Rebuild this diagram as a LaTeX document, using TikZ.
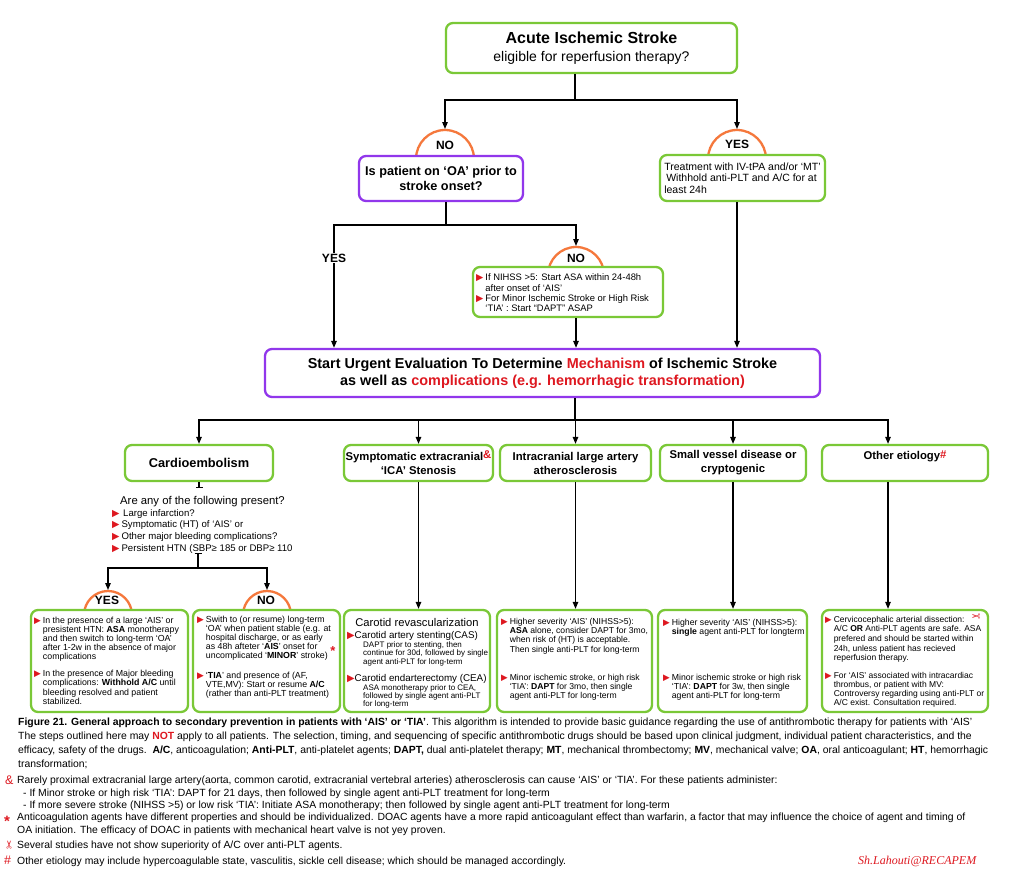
\documentclass[tikz,border=0pt]{standalone}
\usepackage{fontspec}
\usepackage{graphicx}
\setmainfont{Liberation Sans}
\newfontfamily\dejavu{DejaVu Sans}
\newfontfamily\sigfont{Liberation Serif}
\usetikzlibrary{arrows.meta}
\definecolor{gbord}{RGB}{122,200,55}
\definecolor{pbord}{RGB}{145,55,235}
\definecolor{oarc}{RGB}{245,120,60}
\definecolor{tred}{RGB}{222,24,32}
\newcommand\tri{\textcolor{tred}{\dejavu ▶}}
\newcommand\fs[2]{\fontsize{#1}{#2}\selectfont}
\newcommand\bl[1]{\begin{tabular}{@{}l@{\hspace{2pt}}l@{}}#1\end{tabular}}
\begin{document}
\begin{tikzpicture}[x=1pt,y=-1pt,
  gbox/.style={draw=gbord, line width=2.3pt, rounded corners=7pt, fill=white, inner sep=0pt},
  pbox/.style={draw=pbord, line width=2.3pt, rounded corners=7pt, fill=white, inner sep=0pt},
  arcc/.style={draw=oarc, line width=2.3pt},
  conn/.style={line width=1.2pt, black},
  arr/.style={conn, -{Triangle[length=7pt,width=5.5pt]}},
  lab/.style={font=\fs{12}{14}\bfseries, inner sep=1pt},
  tx/.style={inner sep=0pt, anchor=north west, align=left},
  bw/.style={inner sep=0pt, anchor=base west},
  captxt/.style={inner sep=0pt, anchor=base west, font=\fs{10.4}{12}},
  fnmark/.style={inner sep=0pt, anchor=base west, text=tred},
]
\useasboundingbox (0,0) rectangle (1024,878);
\fill[white] (0,0) rectangle (1024,878);

% ---------- orange arcs (behind boxes)
\draw[arcc] (445,159) circle[radius=29];
\draw[arcc] (737,159) circle[radius=29];
\draw[arcc] (576,275) circle[radius=28];
\draw[arcc] (108,615) circle[radius=24];
\draw[arcc] (267,615) circle[radius=24];

% ---------- top
\node[gbox, minimum width=291pt, minimum height=50pt, align=center, font=\fs{16}{18}] (top) at (591.5,48)
  {{\bfseries Acute Ischemic Stroke}\\{\fs{14}{16}eligible for reperfusion therapy?}};

\node[lab] (no1) at (445,145) {NO};
\node[lab] (yes1) at (737,144) {YES};

\node[pbox, minimum width=164pt, minimum height=45pt, align=center, font=\fs{12.7}{15}\bfseries] (oa) at (441,178.5)
  {Is patient on ‘OA’ prior to\\stroke onset?};
\node[gbox, minimum width=165pt, minimum height=46pt, align=left, font=\fs{10.5}{11.6}] (tr) at (742.5,178)
  {Treatment with IV-tPA and/or ‘MT’\\\hspace*{2pt}Withhold anti-PLT and A/C for at\\least 24h};

% middle NO
\node[lab] (no2) at (576,258) {NO};
\node[gbox, minimum width=190pt, minimum height=50pt] (nb) at (568,292) {};
\node[tx, font=\fs{9.4}{10.4}] (nbt) at (476,273.2) {\bl{\tri & If NIHSS >5: Start ASA within 24-48h\\ & after onset of ‘AIS’\\ \tri & For Minor Ischemic Stroke or High Risk\\ & ‘TIA’ : Start “DAPT” ASAP}};

% start box
\node[pbox, minimum width=555pt, minimum height=48pt, align=center, font=\fs{14.4}{17}\bfseries] (sb) at (542.5,373)
  {Start Urgent Evaluation To Determine \textcolor{tred}{Mechanism} of Ischemic Stroke\\as well as \textcolor{tred}{complications (e.g. hemorrhagic transformation)}};

% coordinates
\coordinate (j1) at (575,100);
\coordinate (c1) at (445,129);
\coordinate (c2) at (737,129);
\coordinate (j2) at (446,225);
\coordinate (xy) at (334,0);
\coordinate (c3) at (576,246);
\coordinate (xn) at (576,0);
\coordinate (xt) at (737,0);
\coordinate (j3) at (575,420);
\coordinate (xo) at (888,0);

\draw[conn] (top.south -| j1) -- (j1);
\draw[arr] (j1) -| (c1);
\draw[arr] (j1) -| (c2);
\draw[conn] (oa.south -| j2) -- (j2);
\draw[arr] (j2) -| (sb.north -| xy);
\draw[arr] (j2) -| (c3);
\draw[arr] (nb.south -| xn) -- (sb.north -| xn);
\draw[arr] (tr.south -| xt) -- (sb.north -| xt);
\node[lab, fill=white] (yes2) at (334,258) {YES};

% ---------- etiology boxes
\node[gbox, minimum width=148pt, minimum height=36pt, font=\fs{12.8}{15}\bfseries] (ce) at (199,463) {Cardioembolism};
\node[gbox, minimum width=149pt, minimum height=36pt, align=center, font=\fs{11.3}{14}\bfseries] (sy) at (418.5,463)
  {Symptomatic extracranial\raisebox{2pt}{\textcolor{tred}{\&}}\\‘ICA’ Stenosis};
\node[gbox, minimum width=151pt, minimum height=36pt, align=center, font=\fs{11.3}{14}\bfseries] (ic) at (575.5,463)
  {Intracranial large artery\\atherosclerosis};
\node[gbox, minimum width=146pt, minimum height=36pt, align=center, font=\fs{11.3}{14}\bfseries] (sv) at (733,463)
  {Small vessel disease or\\cryptogenic};
\node[gbox, minimum width=166pt, minimum height=36pt] (ot) at (905,463) {};
\node[font=\fs{11.3}{14}\bfseries, inner sep=0pt] (ott) at (905,456) {Other etiology\raisebox{1pt}{\textcolor{tred}{\#}}};

\draw[conn] (sb.south -| j3) -- (j3);
\draw[arr] (j3) -| (ce.north);
\draw[arr] (j3) -| (ot.north -| xo);
\draw[arr] (sy.north |- j3) -- (sy.north);
\draw[arr] (ic.north |- j3) -- (ic.north);
\draw[arr] (sv.north |- j3) -- (sv.north);

% ---------- cardio questions
\coordinate (cb1) at (199,488);
\coordinate (cb2) at (198,553);
\coordinate (j4) at (198,568);
\coordinate (c4) at (108,590);
\coordinate (c5) at (267,590);
\draw[conn, -{Bar[width=7pt]}] (ce.south) -- (cb1);
\node[bw, font=\fs{11.3}{12}] (q0) at (120,504) {Are any of the following present?};
\node[tx, font=\fs{9.6}{11.7}] (ql) at (112,507.8) {\bl{\tri & \,Large infarction?\\ \tri & Symptomatic (HT) of ‘AIS’ or\\ \tri & Other major bleeding complications?\\ \tri & Persistent HTN (SBP≥ 185 or DBP≥ 110}};
\draw[conn, {Bar[width=7pt]}-] (cb2) -- (j4);
\draw[arr] (j4) -| (c4);
\draw[arr] (j4) -| (c5);
\node[lab] (yes3) at (107,600) {YES};
\node[lab] (no3) at (266,600) {NO};

% ---------- bottom boxes
\node[gbox, minimum width=157pt, minimum height=102pt] (b1) at (109.5,661) {};
\node[gbox, minimum width=147pt, minimum height=102pt] (b2) at (266.5,661) {};
\node[gbox, minimum width=146pt, minimum height=102pt] (b3) at (417,661) {};
\node[gbox, minimum width=155pt, minimum height=102pt] (b4) at (574.5,661) {};
\node[gbox, minimum width=149pt, minimum height=102pt] (b5) at (732.5,661) {};
\node[gbox, minimum width=166pt, minimum height=102pt] (b6) at (905,661) {};

\draw[arr] (sy.south) -- (b3.north -| sy.south);
\draw[arr] (ic.south) -- (b4.north -| ic.south);
\draw[arr] (sv.south) -- (b5.north -| sv.south);
\draw[arr] (ot.south -| xo) -- (b6.north -| xo);

% box 1
\node[tx, font=\fs{8.8}{9.1}] (b1a) at (34,616.6) {\bl{\tri & In the presence of a large ‘AIS’ or\\ & presistent HTN: \textbf{ASA} monotherapy\\ & and then switch to long-term ‘OA’\\ & after 1-2w in the absence of major\\ & complications}};
\node[tx, font=\fs{8.8}{9.4}] (b1b) at (34,669.6) {\bl{\tri & In the presence of Major bleeding\\ & complications: \textbf{Withhold A/C} until\\ & bleeding resolved and patient\\ & stabilized.}};
% box 2
\node[tx, font=\fs{8.8}{9.1}] (b2a) at (197,615.6) {\bl{\tri & Swith to (or resume) long-term\\ & ‘OA’ when patient stable (e.g. at\\ & hospital discharge, or as early\\ & as 48h afteter ‘\textbf{AIS}’ onset for\\ & uncomplicated ‘\textbf{MINOR}’ stroke)}};
\node[inner sep=0pt, text=tred, font=\fs{13}{13}\bfseries] (st) at (333,651) {*};
\node[tx, font=\fs{8.8}{9.1}] (b2b) at (197,671.6) {\bl{\tri & ‘\textbf{TIA}’ and presence of (AF,\\ & VTE,MV): Start or resume \textbf{A/C}\\ & (rather than anti-PLT treatment)}};
% box 3
\node[inner sep=0pt, anchor=base, font=\fs{11.2}{13}] (b3h) at (417,626) {Carotid revascularization};
\node[bw, font=\fs{9.8}{11}] (b3i) at (347,638) {\tri Carotid artery stenting(CAS)};
\node[tx, font=\fs{8}{8.6}] (b3j) at (363,641) {DAPT prior to stenting, then\\continue for 30d, followed by single\\agent anti-PLT for long-term};
\node[bw, font=\fs{9.8}{11}] (b3k) at (347,681) {\tri Carotid endarterectomy (CEA)};
\node[tx, font=\fs{8}{8.2}] (b3l) at (363,684) {ASA monotherapy prior to CEA,\\followed by single agent anti-PLT\\for long-term};
% box 4
\node[tx, font=\fs{8.6}{9.3}] (b4a) at (501,617.5) {\bl{\tri & Higher severity ‘AIS’ (NIHSS>5):\\ & \textbf{ASA} alone, consider DAPT for 3mo,\\ & when risk of (HT) is acceptable.\\ & Then single anti-PLT for long-term}};
\node[tx, font=\fs{8.6}{9.3}] (b4b) at (501,673.5) {\bl{\tri & Minor ischemic stroke, or high risk\\ & ‘TIA’: \textbf{DAPT} for 3mo, then single\\ & agent anti-PLT for long-term}};
% box 5
\node[tx, font=\fs{8.7}{9.6}] (b5a) at (663,618.3) {\bl{\tri & Higher severity ‘AIS’ (NIHSS>5):\\ & \textbf{single} agent anti-PLT for longterm}};
\node[tx, font=\fs{8.7}{9.3}] (b5b) at (663,673.5) {\bl{\tri & Minor ischemic stroke or high risk\\ & ‘TIA’: \textbf{DAPT} for 3w, then single\\ & agent anti-PLT for long-term}};
% box 6
\node[tx, font=\fs{8.5}{9.6}] (b6a) at (825,615.3) {\bl{\tri & Cervicocephalic arterial dissection:\\ & A/C \textbf{OR} Anti-PLT agents are safe. ASA\\ & prefered and should be started within\\ & 24h, unless patient has recieved\\ & reperfusion therapy.}};
\node[inner sep=0pt, text=tred, font=\dejavu\fs{11}{11}] (sc) at (976,617) {\reflectbox{✂}};
\node[tx, font=\fs{8.5}{9.3}] (b6b) at (825,671.3) {\bl{\tri & For ‘AIS’ associated with intracardiac\\ & thrombus, or patient with MV:\\ & Controversy regarding using anti-PLT or\\ & A/C exist. Consultation required.}};

% ---------- caption
\node[captxt] (k1) at (18,725) {\textbf{Figure 21. General approach to secondary prevention in patients with ‘AIS’ or ‘TIA’}. This algorithm is intended to provide basic guidance regarding the use of antithrombotic therapy for patients with ‘AIS’};
\node[captxt] (k2) at (18,739) {The steps outlined here may \textcolor{tred}{\textbf{NOT}} apply to all patients. The selection, timing, and sequencing of specific antithrombotic drugs should be based upon clinical judgment, individual patient characteristics, and the};
\node[captxt] (k3) at (18,753) {efficacy, safety of the drugs.\ \ \textbf{A/C}, anticoagulation; \textbf{Anti-PLT}, anti-platelet agents; \textbf{DAPT,} dual anti-platelet therapy; \textbf{MT}, mechanical thrombectomy; \textbf{MV}, mechanical valve; \textbf{OA}, oral anticoagulant; \textbf{HT}, hemorrhagic};
\node[captxt] (k4) at (18,767) {transformation;};
\node[fnmark, font=\fs{12.5}{12}] (m1) at (5,784) {\&};
\node[captxt] (f1) at (17,783) {Rarely proximal extracranial large artery(aorta, common carotid, extracranial vertebral arteries) atherosclerosis can cause ‘AIS’ or ‘TIA’. For these patients administer:};
\node[captxt] (f2) at (23,796) {- If Minor stroke or high risk ‘TIA’: DAPT for 21 days, then followed by single agent anti-PLT treatment for long-term};
\node[captxt] (f3) at (23,808) {- If more severe stroke (NIHSS >5) or low risk ‘TIA’: Initiate ASA monotherapy; then followed by single agent anti-PLT treatment for long-term};
\node[fnmark, font=\fs{15}{15}\bfseries] (m2) at (4,826) {*};
\node[captxt] (f4) at (17,820.5) {Anticoagulation agents have different properties and should be individualized. DOAC agents have a more rapid anticoagulant effect than warfarin, a factor that may influence the choice of agent and timing of};
\node[captxt] (f5) at (17,833.5) {OA initiation. The efficacy of DOAC in patients with mechanical heart valve is not yey proven.};
\node[inner sep=0pt, text=tred, font=\dejavu\fs{11}{11}] (m3) at (10,844.5) {\rotatebox[origin=c]{90}{✂}};
\node[captxt] (f6) at (17,848) {Several studies have not show superiority of A/C over anti-PLT agents.};
\node[fnmark, font=\fs{12.5}{12}] (m4) at (4,864) {\#};
\node[captxt] (f7) at (17,864) {Other etiology may include hypercoagulable state, vasculitis, sickle cell disease; which should be managed accordingly.};
\node[bw, text=tred, font=\sigfont\itshape\fs{12}{12}] (sig) at (858,864) {Sh.Lahouti@RECAPEM};
\end{tikzpicture}
\end{document}
